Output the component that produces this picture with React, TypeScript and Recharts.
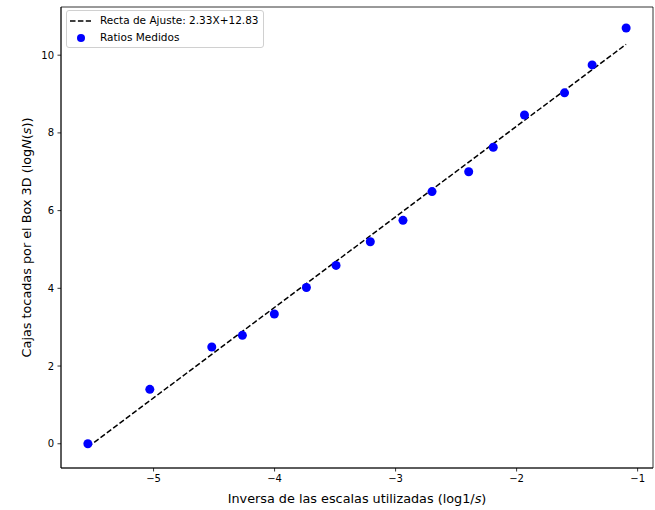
import React from "react";
import {
  ScatterChart,
  Scatter,
  XAxis,
  YAxis,
  ReferenceArea,
  Legend,
  Label,
} from "recharts";

// puntos medidos (log 1/s , log N(s))
const xMedidos = [
  -5.543, -5.031, -4.519, -4.266, -4.002, -3.737, -3.492, -3.209, -2.939,
  -2.699, -2.396, -2.193, -1.935, -1.604, -1.376, -1.095,
];
const yMedidos = [
  0.0, 1.4, 2.49, 2.79, 3.34, 4.02, 4.59, 5.2, 5.75, 6.49, 7.0, 7.63, 8.46,
  9.03, 9.75, 10.7,
];

// recta de ajuste, extremos
const xAjuste = [-5.543, -1.095];
const yAjuste = [-0.085, 10.28];

const xTicks = [-5, -4, -3, -2, -1];
const yTicks = [0, 2, 4, 6, 8, 10];
const xDomain = [-5.765, -0.873];
const yDomain = [-0.624, 11.24];

const medidos = xMedidos.map((x, i) => ({ x, y: yMedidos[i] }));
const ajuste = xAjuste.map((x, i) => ({ x, y: yAjuste[i] }));

const FONT = "'DejaVu Sans', sans-serif";
const minus = (v: number) => String(v).replace("-", "\u2212");

const LegendBox = () => (
  <div
    style={{
      border: "1px solid #d0d0d0",
      borderRadius: 3,
      background: "rgba(255,255,255,0.8)",
      padding: "1px 4px 1px 3px",
      fontFamily: FONT,
      fontSize: 10.5,
      color: "#000",
      lineHeight: "17px",
    }}
  >
    <div style={{ display: "flex", alignItems: "center" }}>
      <svg width={21} height={10} style={{ marginRight: 9 }}>
        <line x1={0} y1={5} x2={21} y2={5} stroke="#000" strokeWidth={1.5} strokeDasharray="5.5 2.4" />
      </svg>
      <span>Recta de Ajuste: 2.33X+12.83</span>
    </div>
    <div style={{ display: "flex", alignItems: "center" }}>
      <svg width={21} height={10} style={{ marginRight: 9 }}>
        <circle cx={11} cy={5} r={4} fill="#0000ff" />
      </svg>
      <span>Ratios Medidos</span>
    </div>
  </div>
);

const XLabel = ({ viewBox }: any) => {
  const cx = viewBox.x + viewBox.width / 2;
  return (
    <text x={cx} y={viewBox.y + 34.5} textAnchor="middle" fontSize={12.8} fontFamily={FONT} fill="#000">
      Inversa de las escalas utilizadas (log1/<tspan fontStyle="italic">s</tspan>)
    </text>
  );
};

const YLabel = ({ viewBox }: any) => {
  const cy = viewBox.y + viewBox.height / 2;
  const cx = 30.5;
  return (
    <text
      x={cx}
      y={cy}
      transform={`rotate(-90 ${cx} ${cy})`}
      textAnchor="middle"
      fontSize={12.8}
      fontFamily={FONT}
      fill="#000"
    >
      Cajas tocadas por el Box 3D (log<tspan fontStyle="italic">N</tspan>(<tspan fontStyle="italic">s</tspan>))
    </text>
  );
};

export default function App() {
  return (
    <div style={{ position: "absolute", left: 0, top: 0, background: "#fff" }}>
      <ScatterChart width={655} height={510} margin={{ top: 7, right: 2, bottom: 0, left: 0 }}>
        <XAxis
          type="number"
          dataKey="x"
          domain={xDomain}
          ticks={xTicks}
          allowDataOverflow
          height={42}
          tickSize={3.5}
          tickMargin={3.5}
          tickFormatter={minus}
          tick={{ fill: "#000", fontSize: 10, fontFamily: FONT }}
          axisLine={{ stroke: "#000", strokeWidth: 0.8 }}
          tickLine={{ stroke: "#000", strokeWidth: 0.8 }}
        >
          <Label content={<XLabel />} />
        </XAxis>
        <YAxis
          type="number"
          dataKey="y"
          domain={yDomain}
          ticks={yTicks}
          allowDataOverflow
          width={61}
          tickSize={3.5}
          tickMargin={3.5}
          tickFormatter={minus}
          tick={{ fill: "#000", fontSize: 10, fontFamily: FONT }}
          axisLine={{ stroke: "#000", strokeWidth: 0.8 }}
          tickLine={{ stroke: "#000", strokeWidth: 0.8 }}
        >
          <Label content={<YLabel />} />
        </YAxis>
        <ReferenceArea
          x1={xDomain[0]}
          x2={xDomain[1]}
          y1={yDomain[0]}
          y2={yDomain[1]}
          fill="none"
          stroke="#000"
          strokeWidth={0.8}
        />
        <Scatter
          name="Recta de Ajuste: 2.33X+12.83"
          data={ajuste}
          line={{ stroke: "#000", strokeWidth: 1.5, strokeDasharray: "5.5 2.4" }}
          shape={() => <g />}
          isAnimationActive={false}
        />
        <Scatter
          name="Ratios Medidos"
          data={medidos}
          fill="#0000ff"
          shape={(p: any) => <circle cx={p.cx} cy={p.cy} r={4.5} fill="#0000ff" />}
          isAnimationActive={false}
        />
        <Legend
          layout="horizontal"
          verticalAlign="middle"
          align="center"
          content={<LegendBox />}
          wrapperStyle={{ top: 10, left: 66, width: "auto", height: "auto" }}
        />
      </ScatterChart>
    </div>
  );
}
